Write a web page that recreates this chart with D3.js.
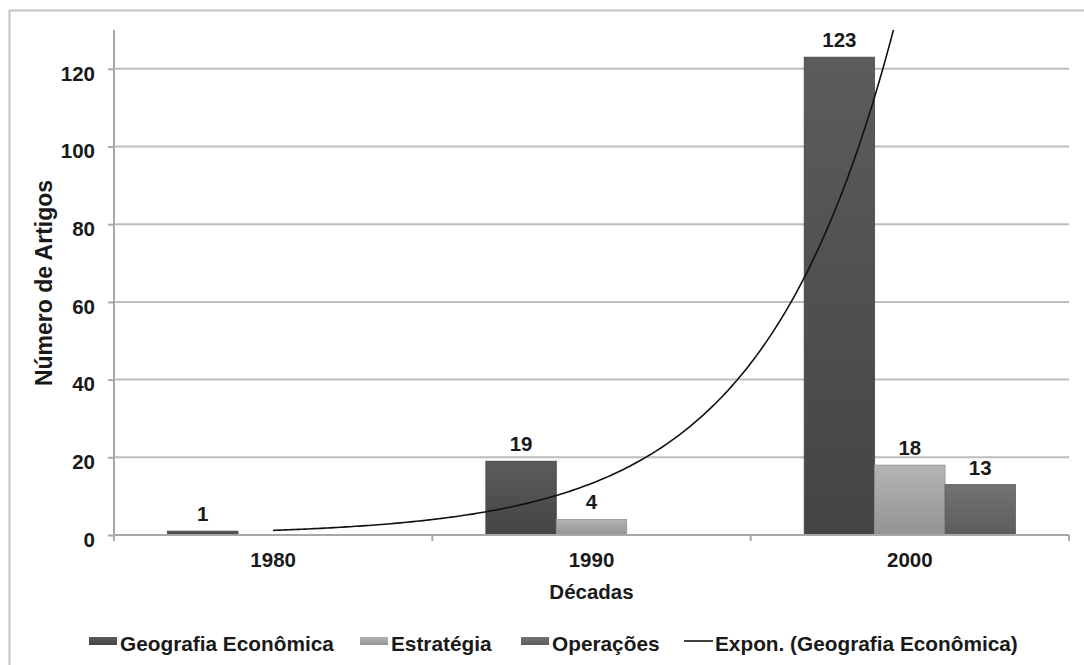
<!DOCTYPE html>
<html>
<head>
<meta charset="utf-8">
<script src="https://cdn.jsdelivr.net/npm/d3@7"></script>
<style>
  html, body { margin: 0; padding: 0; background: #fff; }
  svg { display: block; font-family: "Liberation Sans", Arial, sans-serif; }
</style>
</head>
<body>
<svg id="chart" width="1084" height="665"></svg>
<script>
// Articles per decade, by research area
const categories = ["1980", "1990", "2000"];
const seriesNames = ["Geografia Econômica", "Estratégia", "Operações"];
const geografia = [1, 19, 123];
const estrategia = [null, 4, 18];
const operacoes = [null, null, 13];
const yTicks = [0, 20, 40, 60, 80, 100, 120];
const trendName = "Expon. (Geografia Econômica)";

const seriesValues = [geografia, estrategia, operacoes];
const seriesColors = [
  ["#5c5c5c", "#444444"],
  ["#b4b4b4", "#939393"],
  ["#737373", "#5c5c5c"]
];

const svg = d3.select("#chart");
const W = 1084, H = 665;
const plot = { left: 114, right: 1069, top: 30, bottom: 535 };
const ink = "#1a1a1a";

svg.append("rect").attr("width", W).attr("height", H).attr("fill", "#fff");

// outer frame (top and left edges)
svg.append("path")
  .attr("d", `M9.5,${H} V10.5 H${W}`)
  .attr("fill", "none").attr("stroke", "#c4c4c4").attr("stroke-width", 2);

// gradients for the bars
const defs = svg.append("defs");
seriesColors.forEach((c, i) => {
  const g = defs.append("linearGradient").attr("id", "grad" + i)
    .attr("x1", 0).attr("y1", 0).attr("x2", 0).attr("y2", 1);
  g.append("stop").attr("offset", "0%").attr("stop-color", c[0]);
  g.append("stop").attr("offset", "100%").attr("stop-color", c[1]);
});
defs.append("clipPath").attr("id", "plotClip")
  .append("rect")
  .attr("x", plot.left).attr("y", plot.top)
  .attr("width", plot.right - plot.left).attr("height", plot.bottom - plot.top);

const x = d3.scaleBand().domain(categories).range([plot.left, plot.right]).padding(0);
const xs = d3.scaleBand().domain(seriesNames).range([0, x.bandwidth()])
  .paddingInner(0).paddingOuter(0.76);
const y = d3.scaleLinear().domain([0, 130]).range([plot.bottom, plot.top]);

// gridlines
svg.append("g").selectAll("line").data(yTicks.filter(t => t > 0)).join("line")
  .attr("x1", plot.left).attr("x2", plot.right)
  .attr("y1", d => y(d)).attr("y2", d => y(d))
  .attr("stroke", "#bdbdbd").attr("stroke-width", 2);

// y axis
const yAxis = svg.append("g").attr("transform", `translate(${plot.left},0)`)
  .call(d3.axisLeft(y).tickValues(yTicks).tickSize(6).tickPadding(13));
yAxis.select(".domain").attr("stroke", "#a8a8a8").attr("stroke-width", 2)
  .attr("d", `M0,${plot.top}V${plot.bottom}`);
yAxis.selectAll(".tick line").attr("stroke", "#a8a8a8").attr("stroke-width", 2);
yAxis.selectAll(".tick text")
  .attr("font-size", 20.5).attr("font-weight", "bold").attr("fill", ink)
  .attr("font-family", "Liberation Sans, Arial, sans-serif")
  .attr("dy", "0.55em");

// bars
const barData = [];
categories.forEach((cat, ci) => {
  seriesNames.forEach((s, si) => {
    const v = seriesValues[si][ci];
    if (v !== null && v !== undefined) barData.push({ cat, s, si, v });
  });
});

svg.append("g").selectAll("rect").data(barData).join("rect")
  .attr("x", d => x(d.cat) + xs(d.s))
  .attr("y", d => y(d.v))
  .attr("width", xs.bandwidth())
  .attr("height", d => y(0) - y(d.v))
  .attr("fill", d => `url(#grad${d.si})`)
  .attr("stroke", d => seriesColors[d.si][1]).attr("stroke-width", 0.8);

// x axis
const xAxis = svg.append("g").attr("transform", `translate(0,${plot.bottom})`);
xAxis.append("line").attr("x1", plot.left).attr("x2", plot.right)
  .attr("stroke", "#a8a8a8").attr("stroke-width", 2);
const edges = categories.map(c => x(c)).concat([x(categories[categories.length - 1]) + x.bandwidth()]);
xAxis.selectAll("line.tk").data(edges).join("line").attr("class", "tk")
  .attr("x1", d => d).attr("x2", d => d).attr("y1", 0).attr("y2", 6)
  .attr("stroke", "#a8a8a8").attr("stroke-width", 2);
xAxis.selectAll("text").data(categories).join("text")
  .attr("x", d => x(d) + x.bandwidth() / 2).attr("y", 32)
  .attr("text-anchor", "middle").attr("font-size", 20.5).attr("font-weight", "bold")
  .attr("fill", ink).text(d => d);

// exponential trend of Geografia Econômica (least squares on ln y)
const pts = geografia.map((v, i) => [i + 1, Math.log(v)]);
const mx = d3.mean(pts, p => p[0]), my = d3.mean(pts, p => p[1]);
const b = d3.sum(pts, p => (p[0] - mx) * (p[1] - my)) / d3.sum(pts, p => (p[0] - mx) ** 2);
const a = Math.exp(my - b * mx);
const trendX = d3.range(1, 3.0001, 0.01);
const step = x.step();
const cx0 = x(categories[0]) + x.bandwidth() / 2;
svg.append("path")
  .datum(trendX)
  .attr("clip-path", "url(#plotClip)")
  .attr("fill", "none").attr("stroke", "#111").attr("stroke-width", 1.6)
  .attr("d", d3.line()
    .x(t => cx0 + (t - 1) * step)
    .y(t => y(a * Math.exp(b * t))));

// data labels
svg.append("g").selectAll("text").data(barData).join("text")
  .attr("x", d => x(d.cat) + xs(d.s) + xs.bandwidth() / 2)
  .attr("y", d => y(d.v) - 10)
  .attr("text-anchor", "middle").attr("font-size", 20.5).attr("font-weight", "bold")
  .attr("fill", ink).text(d => d.v);

// axis titles
svg.append("text")
  .attr("x", (plot.left + plot.right) / 2).attr("y", 599)
  .attr("text-anchor", "middle").attr("font-size", 20.5).attr("font-weight", "bold")
  .attr("fill", ink).text("Décadas");
svg.append("text")
  .attr("transform", `translate(52,283) rotate(-90)`)
  .attr("text-anchor", "middle").attr("font-size", 23).attr("font-weight", "bold")
  .attr("fill", ink).text("Número de Artigos");

// legend
const legendItems = [
  { name: seriesNames[0], kind: "bar", i: 0, x: 89 },
  { name: seriesNames[1], kind: "bar", i: 1, x: 360 },
  { name: seriesNames[2], kind: "bar", i: 2, x: 521 },
  { name: trendName, kind: "line", x: 684 }
];
const lg = svg.append("g");
legendItems.forEach(it => {
  if (it.kind === "bar") {
    lg.append("rect").attr("x", it.x).attr("y", 637).attr("width", 28).attr("height", 8)
      .attr("fill", `url(#grad${it.i})`);
  } else {
    lg.append("line").attr("x1", it.x).attr("x2", it.x + 29).attr("y1", 641).attr("y2", 641)
      .attr("stroke", "#111").attr("stroke-width", 1.6);
  }
  lg.append("text").attr("x", it.x + (it.kind === "bar" ? 31 : 31)).attr("y", 651)
    .attr("font-size", 20.8).attr("font-weight", "bold").attr("fill", ink).text(it.name);
});
</script>
</body>
</html>
